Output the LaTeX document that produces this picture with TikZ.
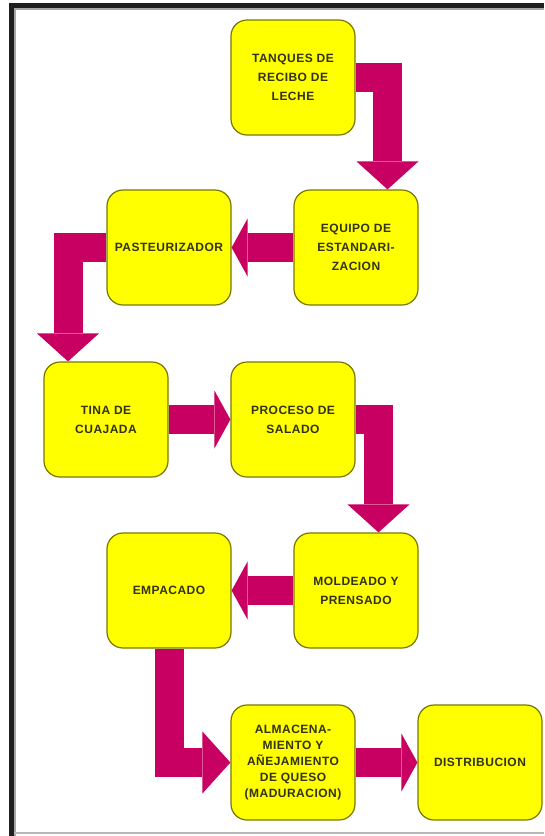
\documentclass[tikz,border=0pt]{standalone}
\usepackage{fontspec}
\setmainfont{Liberation Sans}[LetterSpace=4]
\usetikzlibrary{arrows.meta,calc}
\definecolor{boxfill}{RGB}{255,255,0}
\definecolor{boxline}{RGB}{120,120,0}
\definecolor{arrowcol}{RGB}{200,0,98}
\definecolor{txtcol}{RGB}{50,50,20}
\begin{document}
\begin{tikzpicture}[x=1pt,y=-1pt,
  procbox/.style={draw=boxline, line width=1.2pt, fill=boxfill, rounded corners=16pt,
    minimum width=124pt, minimum height=115pt, align=center, inner sep=2pt,
    font=\bfseries\fontsize{12}{19}\selectfont, text=txtcol},
  flowL/.style={draw=arrowcol, line width=29pt, line join=miter,
    -{Triangle[width=62pt,length=28pt,line width=0pt]}},
  flowS/.style={draw=arrowcol, line width=29pt,
    -{Triangle[width=58pt,length=16pt,line width=0pt]}}]
\useasboundingbox (0,0) rectangle (544,836);
\fill[white] (0,0) rectangle (544,836);
% frame
\fill[black!88] (9,3) rectangle (544,8);
\fill[black!35] (14,8) rectangle (544,10);
\fill[black!88] (9,3) rectangle (14,836);
\fill[black!35] (14,8) rectangle (16,836);
\fill[black!28] (14,832) rectangle (544,834);
% boxes
\node[procbox] (tanques) at (293,77.5) {TANQUES DE\\RECIBO DE\\LECHE};
\node[procbox] (equipo) at (356,247.5) {EQUIPO DE\\ESTANDARI-\\ZACION};
\node[procbox] (past) at (169,247.5) {PASTEURIZADOR};
\node[procbox] (tina) at (106,419.5) {TINA DE\\CUAJADA};
\node[procbox] (proceso) at (293,419.5) {PROCESO DE\\SALADO};
\node[procbox] (empacado) at (169,590.5) {EMPACADO};
\node[procbox] (moldeado) at (356,590.5) {MOLDEADO Y\\PRENSADO};
\node[procbox, font=\bfseries\fontsize{12}{16}\selectfont] (almacen) at (293,762.5)
  {ALMACENA-\\MIENTO Y\\AÑEJAMIENTO\\DE QUESO\\(MADURACION)};
\node[procbox] (distrib) at (480,762.5) {DISTRIBUCION};
% arrow end points
\coordinate (t1) at ($(equipo.north)+(31.5,0)$);
\coordinate (t2) at ($(tina.north)+(-38,0)$);
\coordinate (t3) at ($(moldeado.north)+(22.5,0)$);
% arrows
\draw[flowL] (tanques.east) -| (t1);
\draw[flowS] (equipo.west) -- (past.east);
\draw[flowL] (past.west) -| (t2);
\draw[flowS] (tina.east) -- (proceso.west);
\draw[flowL] (proceso.east) -| (t3);
\draw[flowS] (moldeado.west) -- (empacado.east);
\draw[flowL] (empacado.south) |- (almacen.west);
\draw[flowS] (almacen.east) -- (distrib.west);
\end{tikzpicture}
\end{document}
